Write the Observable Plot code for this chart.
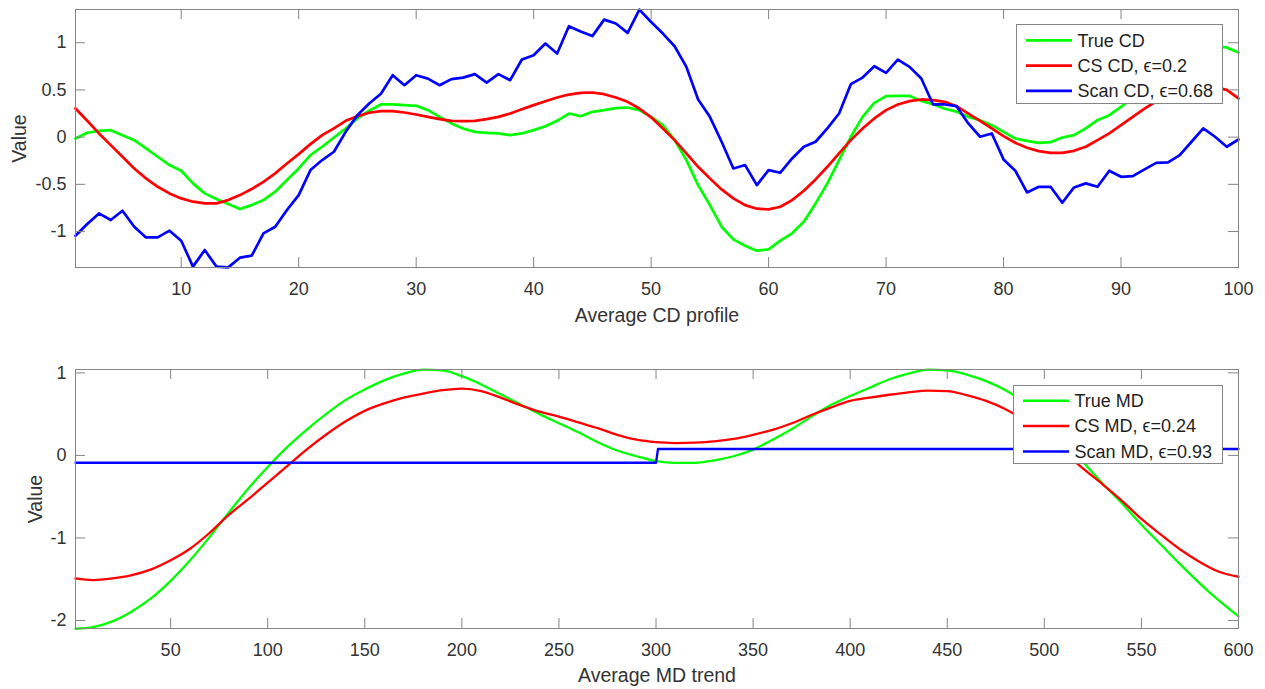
<!DOCTYPE html>
<html><head><meta charset="utf-8">
<script src="https://cdn.jsdelivr.net/npm/d3@7"></script>
<script src="https://cdn.jsdelivr.net/npm/@observablehq/plot@0.6"></script>
<style>
body{margin:0;background:#fff;}
#wrap{position:relative;width:1265px;height:689px;overflow:hidden;font-family:"Liberation Sans",Arial,sans-serif;}
.panel{position:absolute;left:0;}
.panel svg{display:block;}
.legend{position:absolute;}
.legend svg{display:block;}
</style></head><body><div id="wrap"></div>
<script>
// ---------- Top panel: Average CD profile (x = 1..100) ----------
const cdTrue = [-0.014,0.046,0.067,0.074,0.021,-0.032,-0.12,-0.208,-0.296,-0.356,
  -0.49,-0.596,-0.656,-0.709,-0.762,-0.72,-0.667,-0.578,-0.455,-0.332,
  -0.19,-0.102,-0.004,0.092,0.198,0.28,0.346,0.346,0.339,0.332,
  0.286,0.215,0.145,0.092,0.056,0.046,0.039,0.021,0.039,0.074,
  0.116,0.173,0.25,0.222,0.268,0.286,0.307,0.314,0.286,0.215,
  0.127,-0.032,-0.243,-0.508,-0.72,-0.949,-1.083,-1.15,-1.203,-1.189,
  -1.097,-1.019,-0.896,-0.702,-0.49,-0.243,0.004,0.215,0.363,0.434,
  0.437,0.437,0.384,0.349,0.3,0.27,0.215,0.18,0.127,0.056,
  -0.014,-0.039,-0.06,-0.053,-0.004,0.021,0.092,0.18,0.233,0.321,
  0.42,0.52,0.62,0.71,0.79,0.86,0.93,0.96,0.95,0.896];
const cdCS = [0.303,0.173,0.039,-0.085,-0.208,-0.332,-0.437,-0.526,-0.596,-0.649,
  -0.684,-0.702,-0.702,-0.667,-0.614,-0.55,-0.473,-0.384,-0.279,-0.18,
  -0.074,0.021,0.092,0.173,0.222,0.258,0.275,0.275,0.261,0.24,
  0.215,0.19,0.173,0.169,0.173,0.19,0.215,0.25,0.296,0.339,
  0.381,0.42,0.451,0.469,0.473,0.455,0.42,0.374,0.303,0.21,
  0.092,-0.032,-0.173,-0.314,-0.437,-0.554,-0.649,-0.72,-0.758,-0.765,
  -0.737,-0.667,-0.568,-0.448,-0.314,-0.173,-0.032,0.092,0.198,0.286,
  0.346,0.381,0.399,0.392,0.374,0.328,0.25,0.173,0.092,0.011,
  -0.06,-0.113,-0.148,-0.166,-0.166,-0.145,-0.102,-0.032,0.039,0.127,
  0.215,0.303,0.38,0.44,0.485,0.51,0.53,0.53,0.5,0.41];
const cdScan = [-1.044,-0.92,-0.808,-0.878,-0.78,-0.949,-1.062,-1.062,-0.991,-1.097,
  -1.372,-1.196,-1.372,-1.38,-1.277,-1.256,-1.019,-0.949,-0.772,-0.614,
  -0.349,-0.243,-0.155,0.056,0.233,0.356,0.46,0.656,0.55,0.656,
  0.62,0.55,0.614,0.63,0.667,0.578,0.667,0.603,0.822,0.868,
  0.991,0.885,1.175,1.12,1.07,1.245,1.203,1.104,1.351,1.22,
  1.097,0.963,0.744,0.399,0.215,-0.049,-0.332,-0.296,-0.508,-0.349,
  -0.377,-0.226,-0.102,-0.049,0.092,0.25,0.561,0.631,0.751,0.681,
  0.822,0.744,0.621,0.346,0.346,0.328,0.145,0.004,0.039,-0.236,
  -0.356,-0.586,-0.526,-0.526,-0.695,-0.533,-0.49,-0.526,-0.356,-0.42,
  -0.413,-0.342,-0.272,-0.268,-0.19,-0.049,0.092,0.004,-0.102,-0.025];
const cdXTicks = [10,20,30,40,50,60,70,80,90,100];
const cdYTicks = [-1,-0.5,0,0.5,1];
const cdNames = ["True CD", "CS CD, \u03F5=0.2", "Scan CD, \u03F5=0.68"];

// ---------- Bottom panel: Average MD trend (x = 1..600) ----------
const mdX = [1,10,20,30,40,50,60,70,80,90,100,110,120,130,140,150,160,170,180,190,
  200,210,220,230,240,250,260,270,280,290,300,310,320,330,340,350,360,370,380,390,
  400,410,420,430,440,450,460,470,480,490,500,510,520,530,540,550,560,570,580,590,600];
const mdTrue = [-2.10,-2.08,-2.01,-1.89,-1.73,-1.52,-1.27,-0.99,-0.69,-0.40,
  -0.14,0.10,0.31,0.50,0.67,0.80,0.91,0.99,1.04,1.03,
  0.96,0.86,0.74,0.62,0.50,0.39,0.28,0.16,0.06,-0.01,
  -0.07,-0.09,-0.09,-0.06,-0.01,0.07,0.19,0.32,0.47,0.61,
  0.72,0.82,0.92,0.99,1.04,1.03,0.98,0.90,0.79,0.64,
  0.45,0.20,-0.08,-0.34,-0.58,-0.84,-1.08,-1.32,-1.55,-1.76,-1.95];
const mdCS = [-1.49,-1.51,-1.49,-1.45,-1.38,-1.27,-1.13,-0.94,-0.72,-0.53,
  -0.33,-0.13,0.07,0.25,0.41,0.54,0.63,0.70,0.75,0.79,
  0.81,0.78,0.70,0.61,0.53,0.47,0.40,0.33,0.25,0.19,
  0.16,0.15,0.155,0.17,0.20,0.25,0.31,0.39,0.49,0.58,
  0.66,0.70,0.735,0.765,0.785,0.78,0.73,0.66,0.56,0.42,
  0.24,0.04,-0.16,-0.35,-0.55,-0.77,-0.96,-1.14,-1.29,-1.41,-1.47];
const mdScanX = [1,300,301,600];
const mdScan = [-0.089,-0.089,0.078,0.078];
const mdXTicks = [50,100,150,200,250,300,350,400,450,500,550,600];
const mdYTicks = [-2,-1,0,1];
const mdNames = ["True MD", "CS MD, \u03F5=0.24", "Scan MD, \u03F5=0.93"];

const colors = ["#00ff00", "#ff0000", "#0000ff"];

// ---------- drawing ----------
const W = 1265, ML = 75, MR = 27;
const axisColor = "#858585", textColor = "#333333";
const wrap = document.getElementById("wrap");

function drawPanel(o) {
  const fw = W - ML - MR, fh = o.height - o.mT - o.mB, TL = 10;
  const fmt = d => String(d);
  const marks = [];
  o.series.forEach((s, i) => {
    marks.push(Plot.line(s.x.map((x, j) => ({x, y: s.y[j]})),
      {x: "x", y: "y", stroke: colors[i], strokeWidth: o.lineW, curve: s.curve || "linear"}));
  });
  marks.push(
    Plot.frame({stroke: axisColor, strokeWidth: 1}),
    Plot.tickX(o.xTicks, {x: d => d, stroke: axisColor, insetTop: fh - TL}),
    Plot.tickX(o.xTicks, {x: d => d, stroke: axisColor, insetBottom: fh - TL}),
    Plot.tickY(o.yTicks, {y: d => d, stroke: axisColor, insetRight: fw - TL}),
    Plot.tickY(o.yTicks, {y: d => d, stroke: axisColor, insetLeft: fw - TL}),
    Plot.axisX(o.xTicks, {tickSize: 0, tickPadding: 15, fontSize: 18, fill: textColor, label: null, tickFormat: fmt}),
    Plot.axisY(o.yTicks, {tickSize: 0, tickPadding: 9, fontSize: 18, fill: textColor, label: null, tickFormat: fmt}),
    Plot.text([o.xLabel], {frameAnchor: "bottom", dy: o.xLabelDy, text: d => d, fontSize: 19.5,
      fill: textColor, lineAnchor: "middle", textAnchor: "middle"}),
    Plot.text(["Value"], {frameAnchor: "left", dx: o.yLabelDx, rotate: -90, text: d => d, fontSize: 19.5,
      fill: textColor, lineAnchor: "middle", textAnchor: "middle"})
  );
  const svg = Plot.plot({
    width: W, height: o.height,
    marginLeft: ML, marginRight: MR, marginTop: o.mT, marginBottom: o.mB,
    x: {domain: o.xDomain, axis: null},
    y: {domain: o.yDomain, axis: null},
    style: {fontFamily: '"Liberation Sans", Arial, sans-serif', background: "transparent", overflow: "visible"},
    marks
  });
  const div = document.createElement("div");
  div.className = "panel";
  div.style.top = o.top + "px";
  div.appendChild(svg);
  wrap.appendChild(div);
}

function drawLegend(names, box, rowY, lineW) {
  const div = document.createElement("div");
  div.className = "legend";
  div.style.left = box.left + "px";
  div.style.top = box.top + "px";
  wrap.appendChild(div);
  const svg = d3.select(div).append("svg").attr("width", box.w).attr("height", box.h);
  svg.append("rect").attr("x", 0.5).attr("y", 0.5).attr("width", box.w - 1).attr("height", box.h - 1)
    .attr("fill", "#fff").attr("stroke", axisColor);
  names.forEach((n, i) => {
    const y = rowY[i];
    svg.append("line").attr("x1", 10).attr("x2", 56).attr("y1", y).attr("y2", y)
      .attr("stroke", colors[i]).attr("stroke-width", lineW);
    svg.append("text").attr("x", 61.5).attr("y", y).attr("dy", "0.35em")
      .attr("font-size", 18).attr("fill", "#1f1f1f")
      .attr("font-family", '"Liberation Sans", Arial, sans-serif').text(n);
  });
}

drawPanel({
  top: 0, height: 345, mT: 9, mB: 78,
  xDomain: [1, 100], yDomain: [-1.381, 1.352],
  xTicks: cdXTicks, yTicks: cdYTicks,
  series: [
    {x: cdTrue.map((_, i) => i + 1), y: cdTrue},
    {x: cdCS.map((_, i) => i + 1), y: cdCS},
    {x: cdScan.map((_, i) => i + 1), y: cdScan}
  ],
  xLabel: "Average CD profile", xLabelDy: 48, yLabelDx: -56, lineW: 2.7
});

drawPanel({
  top: 345, height: 344, mT: 24, mB: 61,
  xDomain: [1, 600], yDomain: [-2.097, 1.041],
  xTicks: mdXTicks, yTicks: mdYTicks,
  series: [
    {x: mdX, y: mdTrue, curve: "monotone-x"},
    {x: mdX, y: mdCS, curve: "monotone-x"},
    {x: mdScanX, y: mdScan}
  ],
  xLabel: "Average MD trend", xLabelDy: 47.5, yLabelDx: -40, lineW: 2.3
});

drawLegend(cdNames, {left: 1016, top: 24, w: 207, h: 80}, [16.4, 41.7, 66.8], 2.7);
drawLegend(mdNames, {left: 1013, top: 385, w: 210, h: 79}, [15.7, 41, 66.5], 2.5);
</script>
</body></html>
